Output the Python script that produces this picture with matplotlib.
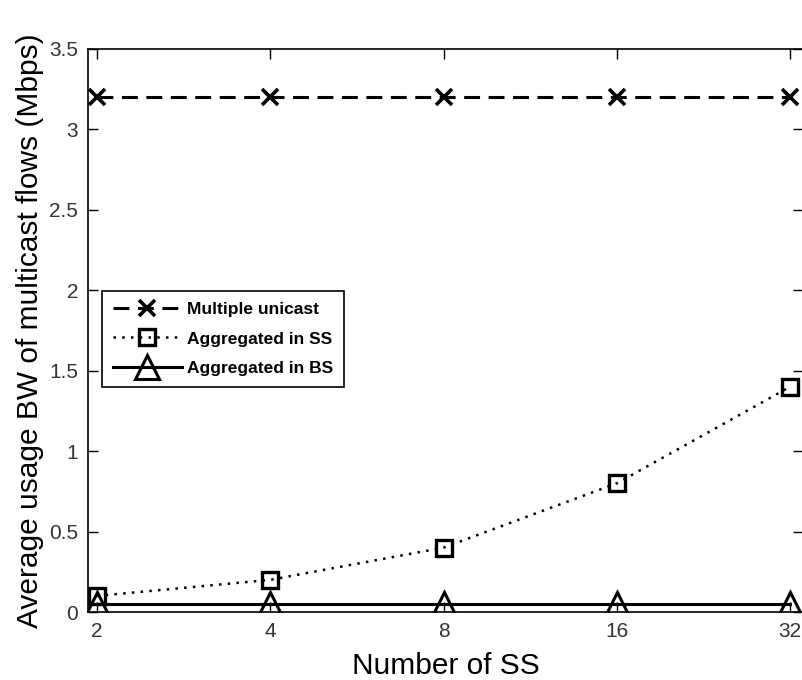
import matplotlib.pyplot as plt

# data
num_ss = ['2', '4', '8', '16', '32']
multiple_unicast = [3.2, 3.2, 3.2, 3.2, 3.2]
aggregated_ss = [0.1, 0.2, 0.4, 0.8, 1.4]
aggregated_bs = [0.05, 0.05, 0.05, 0.05, 0.05]


def main():
    plt.rcParams['font.family'] = ['Liberation Sans', 'DejaVu Sans']
    fig = plt.figure(figsize=(8.02, 6.8), dpi=100)
    ax = fig.add_axes([88 / 802, 68 / 680, 715 / 802, 563 / 680])

    x = range(1, len(num_ss) + 1)
    ax.plot(x, multiple_unicast, color='black', linestyle=(0, (5.2, 2.8)), linewidth=2.2,
            marker='x', markersize=12, markeredgewidth=2.6, label='Multiple unicast')
    ax.plot(x, aggregated_ss, color='black', linestyle=(0, (1, 2.5)), linewidth=1.8,
            marker='s', markersize=12, markeredgewidth=2.4, fillstyle='none',
            label='Aggregated in SS')
    ax.plot(x, aggregated_bs, color='black', linestyle='-', linewidth=2.2,
            marker='^', markersize=17, markeredgewidth=2.2, fillstyle='none',
            label='Aggregated in BS')

    ax.set_xlim(0.948, 5.075)
    ax.set_ylim(0, 3.5)
    ax.set_xticks(list(x))
    ax.set_xticklabels(num_ss)
    ax.set_yticks([0, 0.5, 1, 1.5, 2, 2.5, 3, 3.5])
    ax.set_yticklabels(['0', '0.5', '1', '1.5', '2', '2.5', '3', '3.5'])
    ax.tick_params(direction='in', top=True, right=True, length=7, width=1,
                   labelsize=15, labelcolor='#333333', pad=7)
    for s in ax.spines.values():
        s.set_linewidth(1.2)

    ax.set_xlabel('Number of SS', fontsize=21.5, labelpad=8)
    ax.set_ylabel('Average usage BW of multicast flows (Mbps)', fontsize=21.5, labelpad=4)

    leg = ax.legend(loc='upper left', bbox_to_anchor=(0.02, 0.57), borderaxespad=0,
                    fancybox=False, framealpha=1, edgecolor='black',
                    prop={'weight': 'bold', 'size': 12.5},
                    handlelength=4, handletextpad=0.3, labelspacing=0.85,
                    borderpad=0.6)
    leg.get_frame().set_linewidth(1.2)

    fig.savefig('out.png', dpi=100)


if __name__ == '__main__':
    main()
